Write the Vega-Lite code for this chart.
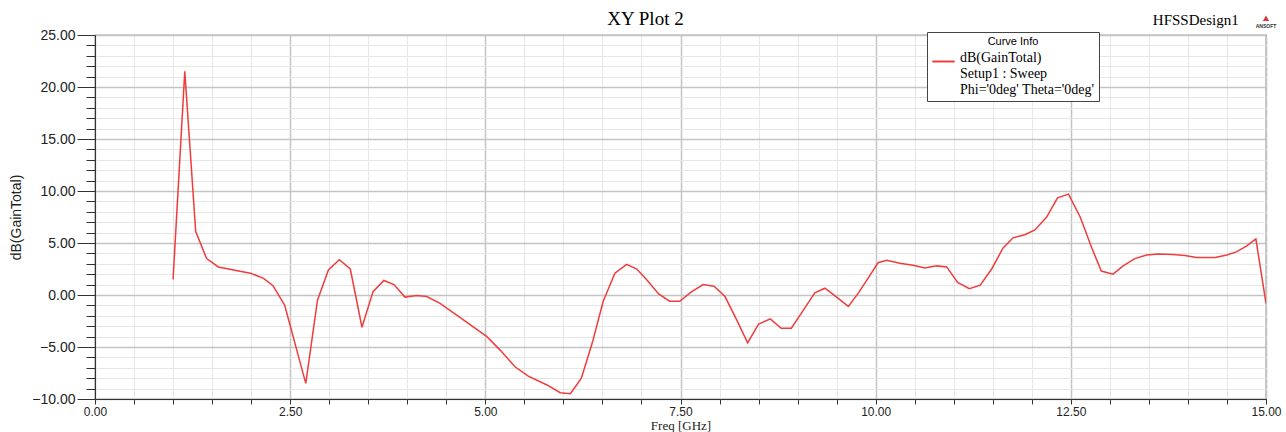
{
  "$schema": "https://vega.github.io/schema/vega-lite/v6.json",
  "width": 1171,
  "height": 364,
  "autosize": {"type": "none"},
  "padding": {"left": 95, "top": 35, "right": 20, "bottom": 33},
  "background": "white",
  "title": {
    "text": "XY Plot 2",
    "font": "Liberation Serif",
    "fontSize": 19,
    "fontWeight": "normal",
    "color": "#000",
    "anchor": "middle",
    "frame": "group",
    "dx": -35,
    "dy": 24,
    "offset": 8
  },
  "config": {
    "view": {"stroke": "#444", "strokeWidth": 1.2},
    "axis": {"domainColor": "#333", "tickColor": "#333", "labelColor": "#222", "titleColor": "#222"}
  },
  "layer": [
    {
      "data": {
        "values": [
          {"f": 1.00, "g": 1.5, "curve": "dB(GainTotal)"},
          {"f": 1.15, "g": 21.5, "curve": "dB(GainTotal)"},
          {"f": 1.29, "g": 6.1, "curve": "dB(GainTotal)"},
          {"f": 1.43, "g": 3.5, "curve": "dB(GainTotal)"},
          {"f": 1.58, "g": 2.7, "curve": "dB(GainTotal)"},
          {"f": 1.99, "g": 2.1, "curve": "dB(GainTotal)"},
          {"f": 2.16, "g": 1.6, "curve": "dB(GainTotal)"},
          {"f": 2.28, "g": 0.9, "curve": "dB(GainTotal)"},
          {"f": 2.43, "g": -1.0, "curve": "dB(GainTotal)"},
          {"f": 2.70, "g": -8.5, "curve": "dB(GainTotal)"},
          {"f": 2.85, "g": -0.5, "curve": "dB(GainTotal)"},
          {"f": 2.99, "g": 2.4, "curve": "dB(GainTotal)"},
          {"f": 3.13, "g": 3.4, "curve": "dB(GainTotal)"},
          {"f": 3.27, "g": 2.5, "curve": "dB(GainTotal)"},
          {"f": 3.42, "g": -3.1, "curve": "dB(GainTotal)"},
          {"f": 3.56, "g": 0.3, "curve": "dB(GainTotal)"},
          {"f": 3.70, "g": 1.4, "curve": "dB(GainTotal)"},
          {"f": 3.83, "g": 1.0, "curve": "dB(GainTotal)"},
          {"f": 3.97, "g": -0.2, "curve": "dB(GainTotal)"},
          {"f": 4.12, "g": -0.05, "curve": "dB(GainTotal)"},
          {"f": 4.25, "g": -0.15, "curve": "dB(GainTotal)"},
          {"f": 4.42, "g": -0.8, "curve": "dB(GainTotal)"},
          {"f": 4.76, "g": -2.6, "curve": "dB(GainTotal)"},
          {"f": 5.02, "g": -4.0, "curve": "dB(GainTotal)"},
          {"f": 5.19, "g": -5.3, "curve": "dB(GainTotal)"},
          {"f": 5.38, "g": -6.9, "curve": "dB(GainTotal)"},
          {"f": 5.55, "g": -7.8, "curve": "dB(GainTotal)"},
          {"f": 5.79, "g": -8.65, "curve": "dB(GainTotal)"},
          {"f": 5.96, "g": -9.4, "curve": "dB(GainTotal)"},
          {"f": 6.09, "g": -9.5, "curve": "dB(GainTotal)"},
          {"f": 6.23, "g": -8.0, "curve": "dB(GainTotal)"},
          {"f": 6.37, "g": -4.6, "curve": "dB(GainTotal)"},
          {"f": 6.51, "g": -0.6, "curve": "dB(GainTotal)"},
          {"f": 6.66, "g": 2.1, "curve": "dB(GainTotal)"},
          {"f": 6.81, "g": 2.95, "curve": "dB(GainTotal)"},
          {"f": 6.94, "g": 2.5, "curve": "dB(GainTotal)"},
          {"f": 7.07, "g": 1.45, "curve": "dB(GainTotal)"},
          {"f": 7.22, "g": 0.1, "curve": "dB(GainTotal)"},
          {"f": 7.36, "g": -0.6, "curve": "dB(GainTotal)"},
          {"f": 7.49, "g": -0.6, "curve": "dB(GainTotal)"},
          {"f": 7.64, "g": 0.3, "curve": "dB(GainTotal)"},
          {"f": 7.79, "g": 1.0, "curve": "dB(GainTotal)"},
          {"f": 7.93, "g": 0.85, "curve": "dB(GainTotal)"},
          {"f": 8.07, "g": -0.15, "curve": "dB(GainTotal)"},
          {"f": 8.22, "g": -2.4, "curve": "dB(GainTotal)"},
          {"f": 8.36, "g": -4.6, "curve": "dB(GainTotal)"},
          {"f": 8.50, "g": -2.8, "curve": "dB(GainTotal)"},
          {"f": 8.65, "g": -2.3, "curve": "dB(GainTotal)"},
          {"f": 8.79, "g": -3.2, "curve": "dB(GainTotal)"},
          {"f": 8.92, "g": -3.2, "curve": "dB(GainTotal)"},
          {"f": 9.07, "g": -1.5, "curve": "dB(GainTotal)"},
          {"f": 9.22, "g": 0.2, "curve": "dB(GainTotal)"},
          {"f": 9.35, "g": 0.65, "curve": "dB(GainTotal)"},
          {"f": 9.50, "g": -0.2, "curve": "dB(GainTotal)"},
          {"f": 9.65, "g": -1.1, "curve": "dB(GainTotal)"},
          {"f": 9.78, "g": 0.2, "curve": "dB(GainTotal)"},
          {"f": 9.91, "g": 1.7, "curve": "dB(GainTotal)"},
          {"f": 10.03, "g": 3.1, "curve": "dB(GainTotal)"},
          {"f": 10.14, "g": 3.35, "curve": "dB(GainTotal)"},
          {"f": 10.31, "g": 3.05, "curve": "dB(GainTotal)"},
          {"f": 10.48, "g": 2.85, "curve": "dB(GainTotal)"},
          {"f": 10.63, "g": 2.6, "curve": "dB(GainTotal)"},
          {"f": 10.78, "g": 2.8, "curve": "dB(GainTotal)"},
          {"f": 10.91, "g": 2.7, "curve": "dB(GainTotal)"},
          {"f": 11.05, "g": 1.2, "curve": "dB(GainTotal)"},
          {"f": 11.20, "g": 0.6, "curve": "dB(GainTotal)"},
          {"f": 11.34, "g": 0.95, "curve": "dB(GainTotal)"},
          {"f": 11.49, "g": 2.55, "curve": "dB(GainTotal)"},
          {"f": 11.63, "g": 4.5, "curve": "dB(GainTotal)"},
          {"f": 11.76, "g": 5.5, "curve": "dB(GainTotal)"},
          {"f": 11.91, "g": 5.8, "curve": "dB(GainTotal)"},
          {"f": 12.04, "g": 6.25, "curve": "dB(GainTotal)"},
          {"f": 12.19, "g": 7.5, "curve": "dB(GainTotal)"},
          {"f": 12.33, "g": 9.35, "curve": "dB(GainTotal)"},
          {"f": 12.47, "g": 9.7, "curve": "dB(GainTotal)"},
          {"f": 12.62, "g": 7.5, "curve": "dB(GainTotal)"},
          {"f": 12.77, "g": 4.5, "curve": "dB(GainTotal)"},
          {"f": 12.89, "g": 2.3, "curve": "dB(GainTotal)"},
          {"f": 13.04, "g": 2.0, "curve": "dB(GainTotal)"},
          {"f": 13.17, "g": 2.8, "curve": "dB(GainTotal)"},
          {"f": 13.32, "g": 3.5, "curve": "dB(GainTotal)"},
          {"f": 13.47, "g": 3.85, "curve": "dB(GainTotal)"},
          {"f": 13.62, "g": 3.95, "curve": "dB(GainTotal)"},
          {"f": 13.81, "g": 3.9, "curve": "dB(GainTotal)"},
          {"f": 13.96, "g": 3.8, "curve": "dB(GainTotal)"},
          {"f": 14.11, "g": 3.6, "curve": "dB(GainTotal)"},
          {"f": 14.35, "g": 3.6, "curve": "dB(GainTotal)"},
          {"f": 14.50, "g": 3.85, "curve": "dB(GainTotal)"},
          {"f": 14.62, "g": 4.15, "curve": "dB(GainTotal)"},
          {"f": 14.75, "g": 4.7, "curve": "dB(GainTotal)"},
          {"f": 14.87, "g": 5.4, "curve": "dB(GainTotal)"},
          {"f": 15.00, "g": -0.8, "curve": "dB(GainTotal)"}
        ]
      },
      "mark": {"type": "line", "strokeWidth": 1.5, "clip": true},
      "encoding": {
        "x": {
          "field": "f", "type": "quantitative",
          "scale": {"domain": [0, 15], "nice": false, "zero": false},
          "axis": {
            "title": "Freq [GHz]",
            "titleFont": "Liberation Serif", "titleFontSize": 13, "titleFontWeight": "normal", "titlePadding": 2,
            "values": [0,0.5,1,1.5,2,2.5,3,3.5,4,4.5,5,5.5,6,6.5,7,7.5,8,8.5,9,9.5,10,10.5,11,11.5,12,12.5,13,13.5,14,14.5,15],
            "tickCount": 200,
            "labelExpr": "datum.value % 2.5 === 0 ? format(datum.value, '.2f') : ''",
            "labelFont": "Liberation Sans", "labelFontSize": 12, "labelPadding": 2, "labelFlush": false, "labelOverlap": false,
            "tickSize": 5,
            "grid": true,
            "gridColor": {"condition": {"test": "datum.value % 2.5 === 0", "value": "#c4c4c4"}, "value": "#e6e6e6"},
            "gridWidth": {"condition": {"test": "datum.value % 2.5 === 0", "value": 1.5}, "value": 1}
          }
        },
        "y": {
          "field": "g", "type": "quantitative",
          "scale": {"domain": [-10, 25], "nice": false, "zero": false},
          "axis": {
            "title": "dB(GainTotal)",
            "titleFont": "Liberation Sans", "titleFontSize": 14, "titleFontWeight": "normal", "titlePadding": 8,
            "values": [-10,-9,-8,-7,-6,-5,-4,-3,-2,-1,0,1,2,3,4,5,6,7,8,9,10,11,12,13,14,15,16,17,18,19,20,21,22,23,24,25],
            "tickCount": 200,
            "labelExpr": "datum.value % 5 === 0 ? format(datum.value, '.2f') : ''",
            "labelFont": "Liberation Sans", "labelFontSize": 14, "labelPadding": 2, "labelFlush": false, "labelOverlap": false,
            "tickSize": {"condition": {"test": "datum.value % 5 === 0", "value": 18}, "value": 9},
            "grid": true,
            "gridColor": {"condition": {"test": "datum.value % 5 === 0", "value": "#c4c4c4"}, "value": "#e6e6e6"},
            "gridWidth": {"condition": {"test": "datum.value % 5 === 0", "value": 1.5}, "value": 1}
          }
        },
        "color": {
          "field": "curve", "type": "nominal",
          "scale": {"range": ["#f03c3c"]},
          "legend": {
            "orient": "none", "legendX": 832, "legendY": -3,
            "title": "Curve Info", "titleAnchor": "middle",
            "titleFont": "Liberation Sans", "titleFontSize": 11, "titleFontWeight": "normal", "titleColor": "#000", "titlePadding": 2,
            "fillColor": "white", "strokeColor": "#444", "padding": 4,
            "symbolType": "stroke", "symbolStrokeWidth": 2, "symbolSize": 500,
            "labelFont": "Liberation Serif", "labelFontSize": 14, "labelColor": "#000", "labelLimit": 400,
            "labelBaseline": "alphabetic",
            "labelExpr": "[datum.label, 'Setup1 : Sweep', \"Phi='0deg' Theta='0deg'\"]"
          }
        }
      }
    },
    {
      "data": {"values": [{"label": "HFSSDesign1"}]},
      "mark": {"type": "text", "font": "Liberation Serif", "fontSize": 15, "color": "#000", "align": "center", "baseline": "middle"},
      "encoding": {
        "x": {"datum": 14.1, "type": "quantitative"},
        "y": {"datum": 26.45, "type": "quantitative"},
        "text": {"field": "label"}
      }
    },
    {
      "data": {"values": [{"label": "ANSOFT"}]},
      "mark": {"type": "text", "font": "Liberation Sans", "fontSize": 5, "fontWeight": "bold", "color": "#333", "align": "center", "baseline": "middle"},
      "encoding": {
        "x": {"datum": 15.0, "type": "quantitative"},
        "y": {"datum": 25.9, "type": "quantitative"},
        "text": {"field": "label"}
      }
    },
    {
      "data": {"values": [{"label": "logo"}]},
      "mark": {"type": "point", "shape": "triangle-up", "filled": true, "color": "#d43a3a", "size": 40, "opacity": 1},
      "encoding": {
        "x": {"datum": 15.0, "type": "quantitative"},
        "y": {"datum": 26.6, "type": "quantitative"}
      }
    }
  ]
}
